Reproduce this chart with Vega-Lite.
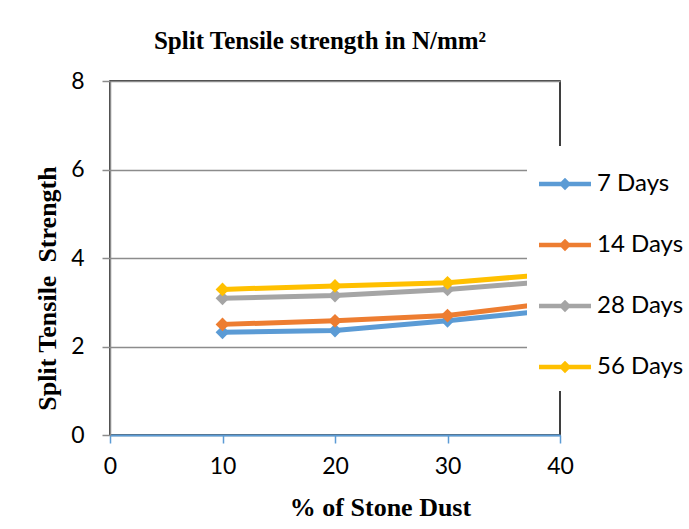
{
  "$schema": "https://vega.github.io/schema/vega-lite/v6.json",
  "width": 450,
  "height": 354,
  "autosize": "none",
  "padding": {"left": 110, "top": 81, "right": 129, "bottom": 94},
  "background": "white",
  "title": {
    "text": "Split Tensile strength in N/mm²",
    "font": "Liberation Serif",
    "fontSize": 25,
    "fontWeight": "bold",
    "color": "black",
    "anchor": "middle",
    "dx": -15,
    "offset": 16
  },
  "config": {
    "view": {"stroke": "black", "strokeWidth": 1.5},
    "axis": {
      "labelFont": "Lato",
      "labelFontSize": 23,
      "labelColor": "black",
      "titleFont": "Liberation Serif",
      "titleFontSize": 26,
      "titleFontWeight": "bold",
      "titleColor": "black"
    }
  },
  "data": {
    "values": [
      {"dust": 10, "series": "7 Days", "strength": 2.32},
      {"dust": 20, "series": "7 Days", "strength": 2.36},
      {"dust": 30, "series": "7 Days", "strength": 2.58},
      {"dust": 40, "series": "7 Days", "strength": 2.84},
      {"dust": 10, "series": "14 Days", "strength": 2.5},
      {"dust": 20, "series": "14 Days", "strength": 2.58},
      {"dust": 30, "series": "14 Days", "strength": 2.7},
      {"dust": 40, "series": "14 Days", "strength": 3.01},
      {"dust": 10, "series": "28 Days", "strength": 3.09},
      {"dust": 20, "series": "28 Days", "strength": 3.15},
      {"dust": 30, "series": "28 Days", "strength": 3.29},
      {"dust": 40, "series": "28 Days", "strength": 3.49},
      {"dust": 10, "series": "56 Days", "strength": 3.29},
      {"dust": 20, "series": "56 Days", "strength": 3.37},
      {"dust": 30, "series": "56 Days", "strength": 3.44},
      {"dust": 40, "series": "56 Days", "strength": 3.65}
    ]
  },
  "encoding": {
    "x": {
      "field": "dust",
      "type": "quantitative",
      "scale": {"domain": [0, 40], "nice": false},
      "axis": {
        "title": "% of Stone Dust",
        "values": [0, 10, 20, 30, 40],
        "grid": false,
        "domainColor": "#5B9BD5",
        "domainWidth": 2,
        "tickColor": "#5B9BD5",
        "tickWidth": 1.5,
        "tickSize": 8,
        "labelPadding": 12,
        "labelFlush": false,
        "titleX": 270,
        "titleY": 72,
        "titleBaseline": "middle",
        "titleAlign": "center"
      }
    },
    "y": {
      "field": "strength",
      "type": "quantitative",
      "scale": {"domain": [0, 8], "nice": false},
      "axis": {
        "title": "Split Tensile\u00a0 Strength",
        "values": [0, 2, 4, 6, 8],
        "grid": true,
        "gridColor": "#8c8c8c",
        "gridWidth": 1.5,
        "domainColor": "#8c8c8c",
        "domainWidth": 1.5,
        "tickColor": "#8c8c8c",
        "tickWidth": 1.5,
        "tickSize": 8,
        "labelPadding": 18,
        "titleX": -63,
        "titleY": 207,
        "titleBaseline": "middle",
        "titleAlign": "center",
        "titleAngle": -90
      }
    },
    "color": {
      "field": "series",
      "type": "nominal",
      "sort": ["7 Days", "14 Days", "28 Days", "56 Days"],
      "scale": {
        "domain": ["7 Days", "14 Days", "28 Days", "56 Days"],
        "range": ["#5B9BD5", "#ED7D31", "#A5A5A5", "#FFC000"]
      },
      "legend": {
        "title": null,
        "orient": "none",
        "legendX": 417,
        "legendY": 65,
        "fillColor": "white",
        "padding": 12,
        "labelFont": "Lato",
        "labelFontSize": 24,
        "labelColor": "black",
        "labelOffset": 6,
        "symbolType": "M-1,-0.09L1,-0.09L1,0.09L-1,0.09Z M0,-0.24L0.24,0L0,0.24L-0.24,0Z",
        "symbolSize": 2700,
        "symbolStrokeWidth": 0,
        "rowPadding": 23
      }
    }
  },
  "layer": [
    {"mark": {"type": "line", "strokeWidth": 5}},
    {"mark": {"type": "point", "shape": "diamond", "filled": true, "size": 190, "opacity": 1}}
  ]
}
